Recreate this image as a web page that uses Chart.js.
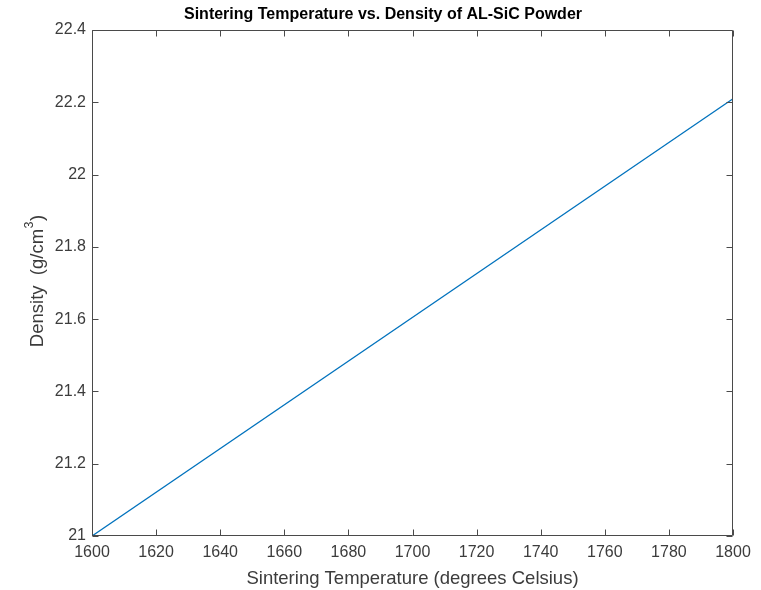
<!DOCTYPE html>
<html>
<head>
<meta charset="utf-8">
<script src="https://cdn.jsdelivr.net/npm/chart.js@4/dist/chart.umd.min.js"></script>
<style>
html,body{margin:0;padding:0;background:#fff;}
#wrap{width:761px;height:590px;position:relative;}
</style>
</head>
<body>
<div id="wrap"><canvas id="c" width="761" height="590"></canvas></div>
<script>
const titleText = 'Sintering Temperature vs. Density of AL-SiC Powder';
const xLabel = 'Sintering Temperature (degrees Celsius)';
const yLabelMain = 'Density  (g/cm';
const yLabelSup = '3';
const yLabelEnd = ')';
const temperature = [1600, 1800];
const density = [21.0, 22.21];
const xTicks = [1600, 1620, 1640, 1660, 1680, 1700, 1720, 1740, 1760, 1780, 1800];
const yTicks = [21, 21.2, 21.4, 21.6, 21.8, 22, 22.2, 22.4];

const axisColor = '#4a4a4a';
const textColor = '#3c3c3c';
const FONT = '"Liberation Sans", Arial, Helvetica, sans-serif';

const boxPlugin = {
  id: 'boxPlugin',
  afterDraw(chart) {
    const ctx = chart.ctx;
    const a = chart.chartArea;
    const xs = chart.scales.x, ys = chart.scales.y;
    const L = Math.round(a.left) + 0.5, R = Math.round(a.right) - 0.5;
    const T = Math.round(a.top) + 0.5, B = Math.round(a.bottom) - 0.5;
    const tl = 6;
    ctx.save();
    ctx.strokeStyle = axisColor;
    ctx.lineWidth = 1;
    ctx.beginPath();
    ctx.rect(L, T, R - L, B - T);
    xTicks.forEach(v => {
      const px = Math.round(xs.getPixelForValue(v)) + 0.5;
      ctx.moveTo(px, B); ctx.lineTo(px, B - tl);
      ctx.moveTo(px, T); ctx.lineTo(px, T + tl);
    });
    yTicks.forEach(v => {
      const py = Math.round(ys.getPixelForValue(v)) + 0.5;
      ctx.moveTo(L, py); ctx.lineTo(L + tl, py);
      ctx.moveTo(R, py); ctx.lineTo(R - tl, py);
    });
    ctx.stroke();
    // title
    ctx.fillStyle = '#000';
    ctx.font = 'bold 16px ' + FONT;
    ctx.textAlign = 'center';
    ctx.textBaseline = 'middle';
    ctx.fillText(titleText, 383, 15);
    // y label with superscript
    const mainFont = '18.5px ' + FONT;
    const supFont = '12.5px ' + FONT;
    ctx.font = mainFont;
    const w1 = ctx.measureText(yLabelMain).width;
    const w3 = ctx.measureText(yLabelEnd).width;
    ctx.font = supFont;
    const w2 = ctx.measureText(yLabelSup).width + 1;
    const total = w1 + w2 + w3;
    const cy = (a.top + a.bottom) / 2 - 2;
    ctx.translate(38, cy);
    ctx.rotate(-Math.PI / 2);
    ctx.fillStyle = textColor;
    ctx.textAlign = 'left';
    ctx.textBaseline = 'middle';
    let x0 = -total / 2;
    ctx.font = mainFont;
    ctx.fillText(yLabelMain, x0, 0);
    ctx.font = supFont;
    ctx.fillText(yLabelSup, x0 + w1 + 0.5, -8);
    ctx.font = mainFont;
    ctx.fillText(yLabelEnd, x0 + w1 + w2, 0);
    ctx.restore();
  }
};

const bgPlugin = {
  id: 'bg',
  beforeDraw(chart) {
    const ctx = chart.ctx;
    ctx.save();
    ctx.fillStyle = '#fff';
    ctx.fillRect(0, 0, chart.width, chart.height);
    ctx.restore();
  }
};

new Chart(document.getElementById('c'), {
  type: 'scatter',
  data: {
    datasets: [{
      data: temperature.map((t, i) => ({x: t, y: density[i]})),
      showLine: true,
      borderColor: '#0072BD',
      borderWidth: 1.3,
      pointRadius: 0,
      fill: false
    }]
  },
  options: {
    responsive: false,
    animation: false,
    events: [],
    layout: {padding: {left: 0, right: 28, top: 30, bottom: 0}},
    plugins: {legend: {display: false}, tooltip: {enabled: false}, title: {display: false}},
    scales: {
      x: {
        type: 'linear',
        min: 1600, max: 1800,
        afterBuildTicks(s) { s.ticks = xTicks.map(v => ({value: v})); },
        afterFit(s) { s.height = 54; },
        grid: {display: false, drawTicks: false},
        border: {display: false},
        ticks: {
          padding: 7,
          color: textColor,
          font: {family: FONT, size: 16},
          maxRotation: 0,
          callback: v => String(v)
        },
        title: {
          display: true,
          text: xLabel,
          color: textColor,
          font: {family: FONT, size: 18.5},
          padding: {top: 1, bottom: 0}
        }
      },
      y: {
        type: 'linear',
        min: 21, max: 22.4,
        afterBuildTicks(s) { s.ticks = yTicks.map(v => ({value: v})); },
        afterFit(s) { s.width = 92; },
        grid: {display: false, drawTicks: false},
        border: {display: false},
        ticks: {
          padding: 6,
          color: textColor,
          font: {family: FONT, size: 16},
          callback: v => String(+Number(v).toFixed(1))
        },
        title: {display: false}
      }
    }
  },
  plugins: [bgPlugin, boxPlugin]
});
</script>
</body>
</html>
